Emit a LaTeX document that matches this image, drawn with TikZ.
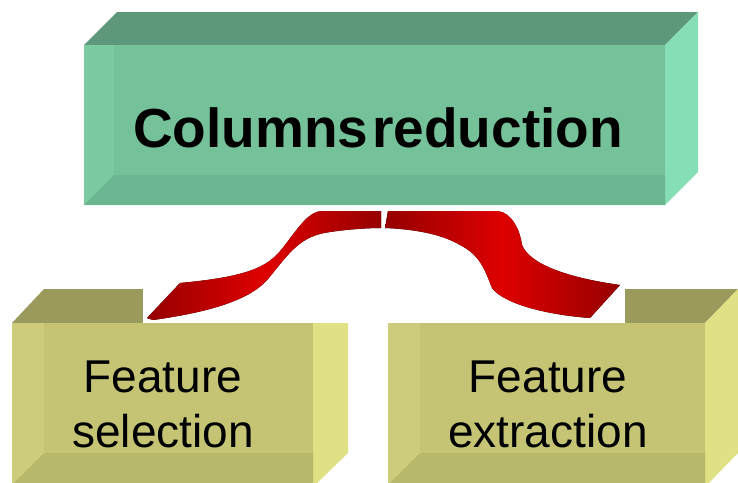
\documentclass[tikz,border=0pt]{standalone}
\usepackage{fontspec}
\setmainfont{Liberation Sans}
\usetikzlibrary{calc,positioning}
\definecolor{GTOP}{RGB}{93,152,123}
\definecolor{GFRT}{RGB}{117,194,154}
\definecolor{GLFT}{RGB}{123,202,161}
\definecolor{GBOT}{RGB}{108,181,145}
\definecolor{GRGT}{RGB}{134,222,180}
\definecolor{YTOP}{RGB}{154,154,92}
\definecolor{YFRT}{RGB}{196,196,116}
\definecolor{YLFT}{RGB}{204,204,124}
\definecolor{YBOT}{RGB}{184,184,106}
\definecolor{YRGT}{RGB}{224,224,132}
\definecolor{RDK}{RGB}{150,0,0}
\definecolor{RBR}{RGB}{222,0,0}

\begin{document}
\begin{tikzpicture}[x=1pt,y=-1pt]
  \useasboundingbox (0,0) rectangle (738,482);
  % — top block: Columns reduction
  \fill[GTOP] (84,45) -- (117,12) -- (698,12) -- (665,45) -- cycle;
  \fill[GRGT] (665,45) -- (698,12) -- (698,172) -- (665,205) -- cycle;
  \fill[GFRT] (84,45) rectangle (665,205);
  \fill[GLFT] (84,45) -- (114,45) -- (114,175) -- (84,205) -- cycle;
  \fill[GBOT] (84,205) -- (114,175) -- (665,175) -- (665,205) -- cycle;
  \node[font=\fontsize{55}{60}\selectfont\bfseries] (colred) at (378,128) {Columns\hspace{4pt}reduction};
  % — lower left block: Feature selection
  \fill[YTOP] (12,323) -- (44,289) -- (348,289) -- (313,323) -- cycle;
  \fill[YRGT] (313,323) -- (348,289) -- (348,453) -- (313,487) -- cycle;
  \fill[YFRT] (12,323) rectangle (313,490);
  \fill[YLFT] (12,323) -- (44,323) -- (44,453) -- (12,485) -- cycle;
  \fill[YBOT] (12,485) -- (44,453) -- (313,453) -- (313,490) -- (12,490) -- cycle;
  \node[font=\fontsize{46}{55}\selectfont,align=center] (featsel) at (163,404) {Feature\\selection};
  % — lower right block: Feature extraction
  \fill[YTOP] (388,323) -- (421,289) -- (738,289) -- (705,323) -- cycle;
  \fill[YRGT] (705,323) -- (738,289) -- (738,453) -- (705,487) -- cycle;
  \fill[YFRT] (388,323) rectangle (705,490);
  \fill[YLFT] (388,323) -- (420,323) -- (420,453) -- (388,485) -- cycle;
  \fill[YBOT] (388,485) -- (420,453) -- (705,453) -- (705,490) -- (388,490) -- cycle;
  \node[font=\fontsize{46}{55}\selectfont,align=center] (featext) at (548,404) {Feature\\extraction};
  % — red ribbons on their white patch
  \fill[white] (143,206) rectangle (625,323);
  \fill[left color=RDK,right color=RDK,middle color=RBR]
    (381,211) -- (322,211) .. controls (310,211) and (300,225) .. (285,245)
    .. controls (270,265) and (255,276) .. (180,283) -- (147,318) -- (153,320)
    .. controls (210,312) and (250,300) .. (268,279)
    .. controls (290,252) and (300,236) .. (330,232)
    .. controls (350,229) and (370,228) .. (381,228) -- cycle;
  \fill[left color=RDK,right color=RDK,middle color=RBR]
    (388,211) -- (498,211) .. controls (512,213) and (520,230) .. (522,245)
    .. controls (530,265) and (570,278) .. (620,285) -- (590,318)
    .. controls (550,315) and (505,305) .. (492,288)
    .. controls (485,270) and (480,255) .. (460,245)
    .. controls (440,233) and (410,229) .. (385,228) -- cycle;
\end{tikzpicture}
\end{document}
